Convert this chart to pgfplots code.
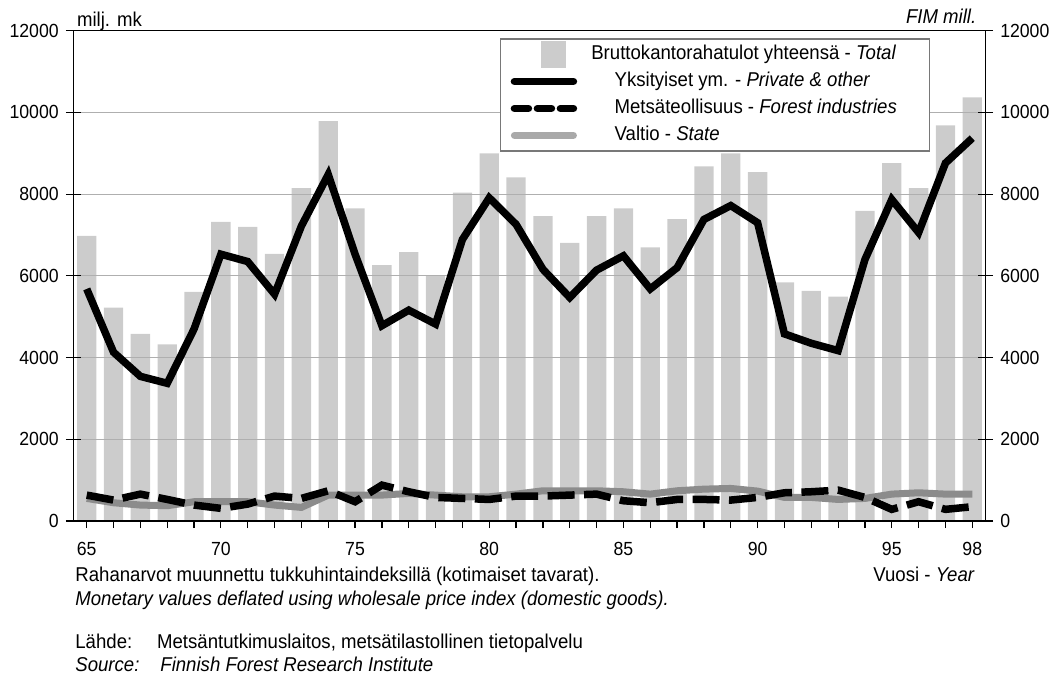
\documentclass[border=0pt]{standalone}
\usepackage{fontspec}
\setmainfont{Liberation Sans}[FakeStretch=0.93]
\usepackage{pgfplots}
\usepackage{pgfplotstable}
\pgfplotsset{compat=1.18}
\definecolor{barcol}{RGB}{204,204,204}
\definecolor{statecol}{RGB}{140,140,140}
\definecolor{gridcol}{RGB}{175,175,175}
\definecolor{legcol}{RGB}{120,120,120}

\pgfplotsset{
  barleg/.style={legend image code/.code={\fill[barcol, draw=none] (15pt,-6.75pt) rectangle (27.5pt,6.75pt); \path[draw=none] (0pt,0pt) -- (50pt,0pt);}},
  lineleg/.style={legend image code/.code={\draw[##1] (1.9pt,0pt) -- (31.4pt,0pt); \path[draw=none] (0pt,0pt) -- (50pt,0pt);}},
  common/.style={
    at={(36.65pt,78pt)}, anchor=south west,
    scale only axis, width=456.2pt, height=245.15pt,
    xmin=64.5, xmax=98.5, ymin=0, ymax=12000,
    ytick={0,2000,...,12000},
    scaled y ticks=false,
    /pgf/number format/assume math mode=true,
    /pgf/number format/1000 sep={},
    tick label style={font=\fontsize{9.5}{11}\selectfont},
    axis line style={black, line width=0.6pt},
    tick style={black, line width=0.6pt},
  },
}

\pgfplotstableread{
year total private forest state
65 6980 5680 634 553
66 5220 4130 512 447
67 4580 3540 658 390
68 4320 3370 528 374
69 5610 4700 390 472
70 7320 6530 309 472
71 7200 6350 414 472
72 6540 5550 610 390
73 8150 7220 553 333
74 9790 8480 740 634
75 7650 6530 472 634
76 6260 4780 878 634
77 6580 5160 716 675
78 6020 4820 577 634
79 8040 6890 553 593
80 9000 7910 528 593
81 8410 7260 610 658
82 7460 6160 610 740
83 6810 5470 634 740
84 7460 6140 658 740
85 7650 6490 496 716
86 6700 5680 447 658
87 7390 6200 528 740
88 8680 7380 528 780
89 9000 7720 512 797
90 8540 7300 577 732
91 5840 4580 691 577
92 5630 4350 716 577
93 5490 4170 756 528
94 7590 6400 577 553
95 8760 7870 285 658
96 8150 7060 472 691
97 9680 8760 285 658
98 10370 9370 350 658
}\data

\begin{document}
\begin{tikzpicture}
\useasboundingbox (0,0) rectangle (527pt,338.5pt);
% bars (below the grid)
\begin{axis}[
  common,
  xtick=\empty, ytick=\empty,
]
\addplot[ybar, bar width=0.72, fill=barcol, draw=none, forget plot]
  table[x=year, y=total] {\data};
\end{axis}
% grid, x ticks, lines, legend
\begin{axis}[
  common,
  xtick={65,70,75,80,85,90,95,98},
  minor xtick={66,67,68,69,71,72,73,74,76,77,78,79,81,82,83,84,86,87,88,89,91,92,93,94,96,97},
  xtick pos=bottom, ytick pos=left,
  yticklabels={},
  xticklabel style={yshift=-3.5pt},
  tick align=outside,
  major tick length=3.5pt, minor tick length=3.5pt,
  ymajorgrids,
  grid style={gridcol, line width=0.6pt},
  legend cell align=left,
  legend style={
    at={(0.4677,0.9845)}, anchor=north west,
    draw=legcol, line width=0.6pt, fill=white,
    font=\fontsize{10}{12}\selectfont,
    inner xsep=5pt, inner ysep=1pt,
    row sep=0pt, column sep=0pt,
    nodes={text height=7.5pt, text depth=2.5pt, inner ysep=1.75pt},
  },
]
\addlegendimage{barleg}
\addlegendentry{\hspace*{-11.65pt}Bruttokantorahatulot yhteensä - \textit{Total}\hspace*{9.5pt}}
\addlegendimage{black, line width=3.75pt, line cap=round, lineleg}
\addlegendentry{Yksityiset ym. - \textit{Private \& other}}
\addlegendimage{black, line width=3.75pt, dash pattern=on 7pt off 4.5pt, line cap=round, lineleg}
\addlegendentry{Metsäteollisuus - \textit{Forest industries}\hspace*{9.5pt}}
\addlegendimage{statecol!75, line width=3.5pt, line cap=round, lineleg}
\addlegendentry{Valtio - \textit{State}}

\addplot[forget plot, statecol, line width=3.5pt] table[x=year, y=state] {\data};
\addplot[forget plot, black, line width=3.75pt, dash pattern=on 13.5pt off 4.75pt] table[x=year, y=forest] {\data};
\addplot[forget plot, black, line width=3.75pt] table[x=year, y=private] {\data};
\end{axis}
% left y ticks and labels
\begin{axis}[
  common,
  hide x axis,
  axis y line*=left,
  tick align=center, major tick length=7.5pt,
]
\addplot[draw=none, forget plot] coordinates {(65,0) (98,0)};
\end{axis}
% right y ticks and labels
\begin{axis}[
  common,
  hide x axis,
  axis y line*=right,
  tick align=center, major tick length=7.5pt,
]
\addplot[draw=none, forget plot] coordinates {(65,0) (98,0)};
\end{axis}

\node[anchor=base west, inner sep=0pt, font=\fontsize{10}{12}\selectfont] at (38.35pt,325.15pt) {milj. mk};
\node[anchor=base east, inner sep=0pt, font=\fontsize{10}{12}\selectfont] at (488.35pt,326.75pt) {\textit{FIM mill.}};
\node[anchor=base west, inner sep=0pt, font=\fontsize{10}{12}\selectfont] at (37.5pt,47.6pt) {Rahanarvot muunnettu tukkuhintaindeksillä (kotimaiset tavarat).};
\node[anchor=base west, inner sep=0pt, font=\fontsize{10}{12}\selectfont] at (436.5pt,48pt) {Vuosi - \textit{Year}};
\node[anchor=base west, inner sep=0pt, font=\fontsize{10}{12}\selectfont] at (37.5pt,35.65pt) {\textit{Monetary values deflated using wholesale price index (domestic goods).}};
\node[anchor=base west, inner sep=0pt, font=\fontsize{10}{12}\selectfont] at (37.5pt,14.35pt) {Lähde:};
\node[anchor=base west, inner sep=0pt, font=\fontsize{10}{12}\selectfont] at (78.35pt,14.35pt) {Metsäntutkimuslaitos, metsätilastollinen tietopalvelu};
\node[anchor=base west, inner sep=0pt, font=\fontsize{10}{12}\selectfont] at (37.5pt,2.65pt) {\textit{Source:}};
\node[anchor=base west, inner sep=0pt, font=\fontsize{10}{12}\selectfont] at (80pt,2.65pt) {\textit{Finnish Forest Research Institute}};
\end{tikzpicture}
\end{document}
